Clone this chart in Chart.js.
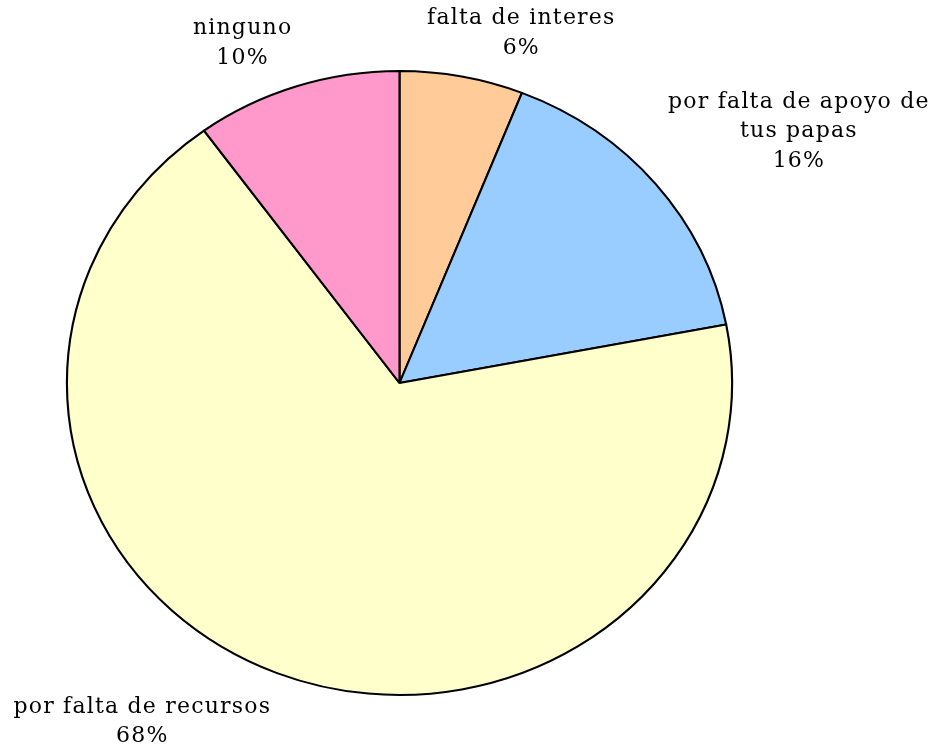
<!DOCTYPE html>
<html lang="es">
<head>
<meta charset="UTF-8">
<title>Pie</title>
<script src="https://cdn.jsdelivr.net/npm/chart.js"></script>
<style>
    html, body { margin: 0; padding: 0; background: #ffffff; }
    #wrap { width: 935px; height: 748px; position: relative; }
</style>
</head>
<body>
<div id="wrap"><canvas id="pie"></canvas></div>
<script>
    // Datos del gráfico
    const labels = [
        ['falta de interes'],
        ['por falta de apoyo de', 'tus papas'],
        ['por falta de recursos'],
        ['ninguno']
    ];
    const values = [6, 16, 68, 10];
    const colors = ['#FFCC99', '#99CCFF', '#FFFFCC', '#FF99CC'];

    const stretchX = 1.066; // la torta original es un poco más ancha que alta
    const fontSpec = '22px "DejaVu Serif", "Liberation Serif", serif';
    const lineH = 29.5;

    // Estira horizontalmente solo las porciones
    const stretchPlugin = {
        id: 'stretch',
        beforeDatasetsDraw(chart) {
            const arc = chart.getDatasetMeta(0).data[0];
            const ctx = chart.ctx;
            ctx.save();
            ctx.translate(arc.x, arc.y);
            ctx.scale(stretchX, 1);
            ctx.translate(-arc.x, -arc.y);
        },
        afterDatasetsDraw(chart) {
            chart.ctx.restore();
        }
    };

    // Etiquetas fuera del borde, como en Excel
    const labelPlugin = {
        id: 'outLabels',
        afterDraw(chart) {
            const ctx = chart.ctx;
            const total = values.reduce((a, b) => a + b, 0);
            ctx.save();
            ctx.font = fontSpec;
            ctx.letterSpacing = '1.2px';
            ctx.fillStyle = '#000';
            ctx.textAlign = 'center';
            ctx.textBaseline = 'middle';
            chart.getDatasetMeta(0).data.forEach((arc, i) => {
                const mid = (arc.startAngle + arc.endAngle) / 2;
                const r = arc.outerRadius + 15;
                const ax = arc.x + Math.cos(mid) * r * stretchX;
                const ay = arc.y + Math.sin(mid) * r;
                const lines = labels[i].concat([Math.round(values[i] / total * 100) + '%']);
                const w = Math.max(...lines.map(t => ctx.measureText(t).width));
                const h = lines.length * lineH;
                // cerca de la vertical la caja se corre hacia el centro
                const f = Math.min(1, Math.max(0, 0.5 - Math.cos(mid) * 1.6));
                const left = ax - w * f;
                const top = Math.sin(mid) >= 0 ? ay + 5 : ay - h + 1;
                lines.forEach((t, k) => {
                    ctx.fillText(t, left + w / 2, top + lineH * (k + 0.5));
                });
            });
            ctx.restore();
        }
    };

    new Chart(document.getElementById('pie'), {
        type: 'pie',
        data: {
            labels: labels.map(l => l.join(' ')),
            datasets: [{
                data: values,
                backgroundColor: colors,
                borderColor: '#000000',
                borderWidth: 2
            }]
        },
        options: {
            responsive: true,
            maintainAspectRatio: false,
            animation: false,
            radius: 312,
            layout: { padding: { top: 71, bottom: 53, left: 0, right: 136 } },
            plugins: {
                legend: { display: false },
                tooltip: { enabled: false }
            }
        },
        plugins: [stretchPlugin, labelPlugin]
    });
</script>
</body>
</html>
